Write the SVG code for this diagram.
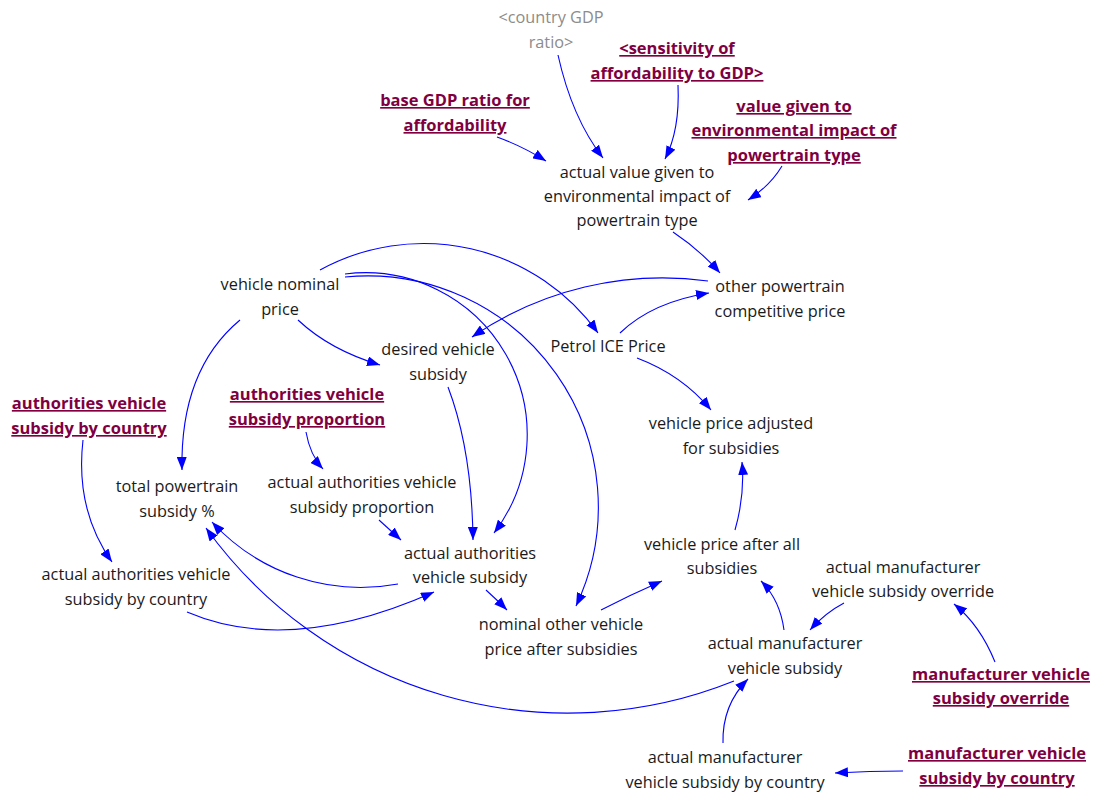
<svg xmlns="http://www.w3.org/2000/svg" width="1093" height="792" viewBox="0 0 1093 792">
  <style>
    text { font-family: "Open Sans", "Noto Sans", "DejaVu Sans", sans-serif; font-size: 16.3px; text-anchor: middle; }
    .n { fill: #1a1a1a; }
    .g { fill: #8c8c8c; }
    .b { fill: #80003f; font-weight: bold; font-size: 16.5px; text-decoration: underline; }
    .link { fill: none; stroke: #0000ff; stroke-width: 1.1; marker-end: url(#head); }
  </style>
  <defs>
    <marker id="head" markerUnits="userSpaceOnUse" markerWidth="14" markerHeight="10" refX="13" refY="5" orient="auto">
      <path d="M0,0 L13,5 L0,10 z" fill="#0000ff"/>
    </marker>
  </defs>
  <rect width="1093" height="792" fill="#ffffff"/>

  <g id="connectors">
    <path class="link" d="M558,55 Q572,118 603,158"/>
    <path class="link" d="M678,85 Q680,130 665,159"/>
    <path class="link" d="M497,137 Q522,146 546,161"/>
    <path class="link" d="M782,166 Q770,186 748,200"/>
    <path class="link" d="M673,232 Q700,250 720,273"/>
    <path class="link" d="M708,281 A337,337 0 0 0 472,337"/>
    <path class="link" d="M620,333 Q652,302 709,293"/>
    <path class="link" d="M637,358 Q682,375 711,410"/>
    <path class="link" d="M320,270 A215,215 0 0 1 598,333"/>
    <path class="link" d="M345,274 A162,162 0 0 1 494,533"/>
    <path class="link" d="M345,277 A231,231 0 0 1 576,606"/>
    <path class="link" d="M298,320 Q330,350 380,365"/>
    <path class="link" d="M448,387 Q472,450 473,540"/>
    <path class="link" d="M240,320 Q180,370 182,470"/>
    <path class="link" d="M306,432 Q310,455 323,469"/>
    <path class="link" d="M379,520 Q390,530 401,540"/>
    <path class="link" d="M398,584 A202,202 0 0 1 212,522"/>
    <path class="link" d="M486,590 Q497,600 507,610"/>
    <path class="link" d="M187,612 Q290,656 434,592"/>
    <path class="link" d="M83,440 Q75,510 112,562"/>
    <path class="link" d="M734,681 A446,446 0 0 1 206,528"/>
    <path class="link" d="M601,610 Q630,595 662,581"/>
    <path class="link" d="M735,530 Q745,495 742,462"/>
    <path class="link" d="M784,630 Q780,600 761,581"/>
    <path class="link" d="M844,603 Q825,613 810,630"/>
    <path class="link" d="M995,662 Q980,625 954,604"/>
    <path class="link" d="M723,743 Q722,705 748,679"/>
    <path class="link" d="M903,771 Q870,771 835,773"/>
  </g>

  <g id="country-gdp-ratio"><text class="g" x="551" y="23">&lt;country GDP</text><text class="g" x="551" y="48">ratio&gt;</text></g>
  <g id="sensitivity-of-affordability"><text class="b" x="677" y="54">&lt;sensitivity of</text><text class="b" x="677" y="79">affordability to GDP&gt;</text></g>
  <g id="base-gdp-ratio"><text class="b" x="455" y="106">base GDP ratio for</text><text class="b" x="455" y="131">affordability</text></g>
  <g id="value-given"><text class="b" x="794" y="112">value given to</text><text class="b" x="794" y="136">environmental impact of</text><text class="b" x="794" y="161">powertrain type</text></g>
  <g id="actual-value-given"><text class="n" x="637" y="178">actual value given to</text><text class="n" x="637" y="202">environmental impact of</text><text class="n" x="637" y="226">powertrain type</text></g>
  <g id="other-powertrain-price"><text class="n" x="780" y="292">other powertrain</text><text class="n" x="780" y="317">competitive price</text></g>
  <g id="vehicle-nominal-price"><text class="n" x="280" y="290">vehicle nominal</text><text class="n" x="280" y="315">price</text></g>
  <g id="desired-vehicle-subsidy"><text class="n" x="438" y="355">desired vehicle</text><text class="n" x="438" y="380">subsidy</text></g>
  <g id="petrol-ice-price"><text class="n" x="608" y="352">Petrol ICE Price</text></g>
  <g id="authorities-subsidy-by-country"><text class="b" x="89" y="409">authorities vehicle</text><text class="b" x="89" y="434">subsidy by country</text></g>
  <g id="authorities-subsidy-proportion"><text class="b" x="307" y="400">authorities vehicle</text><text class="b" x="307" y="425">subsidy proportion</text></g>
  <g id="vehicle-price-adjusted"><text class="n" x="731" y="429">vehicle price adjusted</text><text class="n" x="731" y="454">for subsidies</text></g>
  <g id="total-powertrain-subsidy"><text class="n" x="177" y="492">total powertrain</text><text class="n" x="177" y="517">subsidy %</text></g>
  <g id="actual-authorities-proportion"><text class="n" x="362" y="488">actual authorities vehicle</text><text class="n" x="362" y="513">subsidy proportion</text></g>
  <g id="actual-authorities-subsidy"><text class="n" x="470" y="559">actual authorities</text><text class="n" x="470" y="583">vehicle subsidy</text></g>
  <g id="actual-authorities-by-country"><text class="n" x="136" y="580">actual authorities vehicle</text><text class="n" x="136" y="605">subsidy by country</text></g>
  <g id="vehicle-price-after-all"><text class="n" x="722" y="550">vehicle price after all</text><text class="n" x="722" y="574">subsidies</text></g>
  <g id="actual-manufacturer-override"><text class="n" x="903" y="573">actual manufacturer</text><text class="n" x="903" y="597">vehicle subsidy override</text></g>
  <g id="nominal-other-vehicle-price"><text class="n" x="561" y="630">nominal other vehicle</text><text class="n" x="561" y="655">price after subsidies</text></g>
  <g id="actual-manufacturer-subsidy"><text class="n" x="785" y="649">actual manufacturer</text><text class="n" x="785" y="674">vehicle subsidy</text></g>
  <g id="manufacturer-override"><text class="b" x="1001" y="680">manufacturer vehicle</text><text class="b" x="1001" y="704">subsidy override</text></g>
  <g id="manufacturer-by-country"><text class="b" x="997" y="759">manufacturer vehicle</text><text class="b" x="997" y="784">subsidy by country</text></g>
  <g id="actual-manufacturer-by-country"><text class="n" x="725" y="763">actual manufacturer</text><text class="n" x="725" y="788">vehicle subsidy by country</text></g>
</svg>
